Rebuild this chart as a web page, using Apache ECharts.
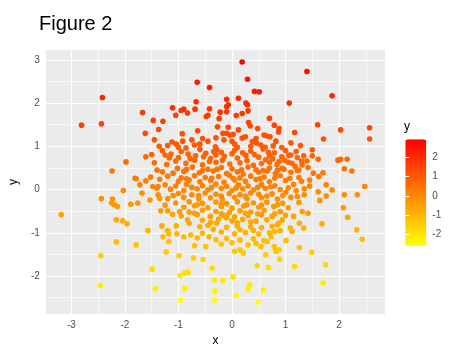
<!DOCTYPE html>
<html><head><meta charset="utf-8">
<script src="https://cdn.jsdelivr.net/npm/echarts@6/dist/echarts.min.js"></script>
<style>html,body{margin:0;padding:0;background:#fff}#c{width:474px;height:355px}</style>
</head><body><div id="c"></div>
<script>
const xTicks = [-3, -2, -1, 0, 1, 2];
const yTicks = [-2, -1, 0, 1, 2, 3];
const xMinor = [-2.5, -1.5, -0.5, 0.5, 1.5, 2.5];
const yMinor = [-2.5, -1.5, -0.5, 0.5, 1.5, 2.5];
const legendTicks = [-2, -1, 0, 1, 2];

const pointsUpper = [
[-0.65,2.48],[-0.42,2.36],[-2.42,2.13],[-0.67,2.03],[-2.81,1.49],[-2.44,1.52],[-1.67,1.78],[-1.11,1.89],[-0.95,1.83],[-0.90,1.86],
[-0.83,1.77],[-0.69,1.86],[-0.42,1.87],[-0.22,1.79],[-1.05,1.72],[-1.47,1.60],[-1.29,1.58],[-0.48,1.69],[-0.45,1.72],[-0.24,1.64],
[-1.62,1.30],[-1.37,1.39],[-0.93,1.29],[-0.64,1.36],[-0.27,1.45],[-0.17,1.30],[-0.92,1.12],[-1.12,1.10],[-1.20,1.02],[-1.04,1.05],
[-1.36,1.00],[-0.86,0.96],[-0.70,1.03],[-0.55,1.18],[-0.31,0.99],[-0.28,0.92],[-0.34,0.88],[-1.61,0.76],[-1.50,0.81],[-1.14,0.82],
[-1.17,0.73],[-0.78,0.72],[-0.49,0.84],[-0.53,0.76],[-1.98,0.64],[-2.24,0.43],[-1.81,0.26],
[0.19,2.95],[1.40,2.73],[0.29,2.55],[0.42,2.27],[0.51,2.26],[1.87,2.17],[1.07,2.00],[-0.10,2.09],[-0.07,1.96],[0.12,2.11],
[0.26,2.00],[0.29,1.96],[-0.10,1.80],[0.19,1.76],[0.30,1.82],[0.08,1.71],[0.70,1.65],[0.31,1.55],[0.34,1.47],[0.79,1.49],
[0.88,1.41],[0.87,1.33],[1.60,1.50],[2.03,1.38],[2.57,1.43],[2.57,1.17],[1.71,1.17],[1.17,1.32],[-0.07,1.44],[0.48,1.41],
[-0.10,1.30],[-0.04,1.26],[0.02,1.28],[0.12,1.38],[0.19,1.19],[0.60,1.26],[0.65,1.24],[0.71,1.22],[0.38,1.11],[0.46,1.07],
[0.54,1.03],[0.77,1.01],[0.93,0.97],[1.28,1.02],[1.50,0.92],[1.61,0.70],[1.98,0.68],[2.03,0.70],[2.15,0.70],[2.10,0.48],
[2.24,0.43],[1.70,0.39],[1.34,0.78],[1.40,0.66],[1.06,0.79],[1.12,0.61],[0.93,0.76],[0.88,0.65],[0.94,0.49],[0.79,0.85],
[0.70,0.78],[0.63,0.69],[1.18,0.53],[1.25,0.45],[1.31,0.57],[-0.10,1.92],
[-0.45,1.12],[-0.15,1.15],[0.05,1.05],[0.25,1.22],[0.35,1.00],[-0.60,1.05],[0.10,0.98]
];

const pointsCore = [
[-1.30,0.90],[-0.95,0.88],[-0.60,0.93],[-0.20,0.86],[0.05,0.91],[0.35,0.89],[0.58,0.94],[1.00,0.90],
[-1.00,0.74],[-0.68,0.78],[-0.40,0.72],[-0.14,0.77],[0.10,0.73],[0.26,0.79],[0.50,0.75],[0.76,0.71],[1.22,0.74],
[-1.45,0.62],[-1.22,0.58],[-0.86,0.61],[-0.55,0.57],[-0.30,0.63],[-0.04,0.59],[0.15,0.62],[0.40,0.56],[0.55,0.60],[0.84,0.58],[1.05,0.63],
[-1.02,0.49],[-0.74,0.52],[-0.45,0.47],[-0.20,0.51],[0.00,0.48],[0.30,0.52],[0.45,0.46],[0.70,0.50],[0.97,0.47],[1.42,0.51],
[-1.30,0.41],[-1.10,0.38],[-0.90,0.42],[-0.61,0.39],[-0.35,0.43],[-0.10,0.37],[0.10,0.41],[0.21,0.36],[0.50,0.40],[0.66,0.43],[0.81,0.37],[1.10,0.40],[1.52,0.38],
[-1.52,0.29],[-1.20,0.31],[-0.95,0.27],[-0.70,0.32],[-0.50,0.28],[-0.25,0.30],[-0.05,0.33],[0.15,0.27],[0.35,0.31],[0.60,0.29],[0.90,0.32],[1.25,0.28],[1.62,0.30],
[-1.00,0.19],[-0.80,0.22],[-0.60,0.18],[-0.40,0.21],[-0.15,0.17],[0.05,0.22],[0.25,0.19],[0.45,0.23],[0.70,0.18],[1.00,0.21],[1.30,0.19],
[-1.25,0.11],[-1.05,0.08],[-0.85,0.12],[-0.55,0.09],[-0.30,0.13],[-0.10,0.07],[0.12,0.11],[0.30,0.08],[0.55,0.12],[0.80,0.09],[1.15,0.12],[1.45,0.08],
[-1.15,0.01],[-0.90,-0.02],[-0.65,0.02],[-0.45,-0.01],[-0.20,0.03],[0.00,-0.02],[0.20,0.02],[0.40,-0.01],[0.62,0.03],[0.90,0.00],[1.20,-0.03],
[-1.00,-0.09],[-0.75,-0.12],[-0.50,-0.08],[-0.30,-0.11],[-0.05,-0.09],[0.15,-0.12],[0.35,-0.08],[0.50,-0.11],[0.75,-0.10],[1.00,-0.07],[1.35,-0.12],
[-1.20,-0.21],[-0.90,-0.18],[-0.62,-0.22],[-0.40,-0.19],[-0.18,-0.23],[0.05,-0.18],[0.28,-0.21],[0.55,-0.19],[0.85,-0.22],[1.10,-0.18],
[-1.05,-0.31],[-0.80,-0.28],[-0.55,-0.32],[-0.30,-0.29],[-0.10,-0.33],[0.10,-0.28],[0.40,-0.31],[0.65,-0.29],[0.95,-0.32],[1.25,-0.30],
[-0.90,-0.41],[-0.70,-0.38],[-0.45,-0.42],[-0.20,-0.39],[0.00,-0.43],[0.22,-0.38],[0.50,-0.41],[0.78,-0.39],[1.05,-0.42],
[-1.20,-0.49],[-0.80,-0.52],[-0.55,-0.48],[-0.30,-0.51],[-0.05,-0.53],[0.15,-0.49],[0.35,-0.52],[0.60,-0.48],[0.90,-0.51],
[-0.95,-0.61],[-0.65,-0.58],[-0.40,-0.62],[-0.15,-0.59],[0.05,-0.63],[0.30,-0.60],[0.55,-0.58],[0.75,-0.62],[1.00,-0.59],
[-0.55,-0.71],[-0.25,-0.68],[0.00,-0.72],[0.20,-0.69],[0.45,-0.73],[0.65,-0.70],
[-0.60,-0.86],[-0.45,-0.83],[-0.10,-0.87],[0.10,-0.84],[0.35,-0.86],[0.55,-0.88],[0.75,-0.85],
[-0.55,-1.01],[-0.20,-0.98],[0.05,-1.02],[0.25,-0.99],[0.50,-1.03],[0.70,-1.00],
[-0.30,-1.16],[-0.10,-1.13],[0.15,-1.17],[0.40,-1.14],[0.60,-1.18]
];

const pointsCoreExtra = [
[-1.45,1.15],[-0.75,1.15],[-0.30,1.20],[0.00,1.12],[0.45,1.18],[0.82,1.12],[1.10,1.08],[-1.00,0.98],[0.62,0.98],[1.20,0.88],
[-1.25,0.80],[-0.82,0.82],[-0.30,0.80],[0.00,0.83],[0.20,0.85],[0.42,0.81],[0.68,0.86],[1.10,0.80],[1.50,0.78],
[-1.05,0.66],[-0.70,0.68],[-0.42,0.65],[-0.18,0.68],[0.28,0.67],[0.70,0.64],[0.98,0.68],[1.30,0.66],
[-1.40,0.45],[-0.85,0.47],[-0.55,0.44],[-0.28,0.47],[0.18,0.46],[0.58,0.44],[0.85,0.45],[1.22,0.44],
[-1.35,0.24],[-0.85,0.25],[-0.38,0.26],[0.02,0.26],[0.52,0.25],[0.80,0.26],[1.08,0.26],[1.45,0.22],
[-1.40,0.03],[-0.75,0.05],[-0.38,0.05],[0.08,0.04],[0.48,0.05],[0.72,0.06],[1.05,0.04],[1.35,0.02],
[-1.10,-0.14],[-0.62,-0.14],[-0.20,-0.15],[0.25,-0.15],[0.65,-0.15],[0.95,-0.14],[1.22,-0.16],
[-1.25,-0.36],[-0.65,-0.35],[-0.20,-0.34],[0.28,-0.35],[0.55,-0.36],[0.85,-0.35],
[-0.70,-0.55],[-0.20,-0.56],[0.25,-0.55],[0.48,-0.56],[0.80,-0.56],[1.15,-0.62],
[-0.80,-0.78],[-0.40,-0.76],[0.10,-0.77],[0.35,-0.75],[0.85,-0.82],[-0.10,-0.65],
[-0.35,-0.92],[0.15,-0.93],[0.40,-0.95],[0.90,-0.95],
[-0.20,-1.26],[0.00,-1.23],[0.45,-1.25],[-0.70,-1.30]
];

const pointsLower = [
[-3.19,-0.58],[-2.44,-0.21],[-2.23,-0.22],[-2.25,-0.31],[-2.20,-0.35],[-2.14,-0.39],[-2.03,-0.02],[-1.89,-0.34],[-1.76,-0.31],[-1.79,0.25],
[-1.72,0.11],[-1.68,-0.08],[-1.61,0.20],[-1.48,0.07],[-1.38,0.07],[-1.38,-0.12],[-1.35,-0.20],[-1.53,-0.24],[-2.16,-0.70],[-2.04,-0.72],
[-1.96,-0.79],[-2.16,-1.21],[-1.79,-1.28],[-2.45,-1.53],[-2.46,-2.22],[-1.57,-0.95],[-1.49,-1.84],[-1.43,-2.29],[-1.33,-0.49],[-1.31,-0.84],
[-1.20,-0.95],[-1.18,-1.02],[-1.18,-1.20],[-1.29,-1.09],[-1.23,-1.44],[-1.11,-0.57],[-1.04,-0.84],[-1.03,-1.02],[-0.98,-0.51],[-0.99,-1.53],
[-0.90,-1.09],[-0.83,-0.70],[-0.77,-1.05],[-0.72,-1.58],[-0.65,-1.12],[-0.54,-1.62],[-0.49,-1.32],[-0.43,-1.09],[-0.37,-1.82],[-0.29,-0.78],
[-0.33,-2.09],[-0.97,-1.99],[-0.89,-1.93],[-0.82,-1.91],[-0.88,-2.29],[-0.96,-2.56],[-0.32,-2.34],[-0.33,-2.55],
[2.48,0.07],[2.10,-0.12],[2.34,-0.12],[2.08,-0.42],[2.16,-0.64],[2.33,-0.93],[2.43,-1.15],[1.68,-0.79],[1.75,-1.74],[1.70,-2.16],
[1.49,-1.45],[1.61,-0.05],[1.76,0.11],[1.76,-0.15],[1.87,-0.01],[1.64,-0.25],[1.26,-1.34],[1.17,-1.78],[1.26,-0.78],[1.34,-0.89],
[1.31,-0.51],[1.42,-0.55],[1.09,-0.89],[1.12,-0.97],[1.01,-1.18],[0.89,-1.61],[0.88,-1.39],[0.82,-1.43],[0.79,-1.32],[0.68,-1.80],
[0.59,-2.32],[0.48,-2.60],[0.47,-1.76],[0.63,-1.51],[0.33,-2.20],[0.30,-2.30],[0.02,-2.02],[0.08,-2.45],[-0.17,-2.10],[0.21,-1.47],
[0.15,-1.39],[0.05,-1.43],[0.30,-1.28],[0.54,-1.32],[0.66,-1.20],[0.73,-1.09],[0.79,-0.97],[0.87,-0.78],[0.94,-0.70]
];

const points = pointsUpper.concat(pointsCore, pointsCoreExtra, pointsLower);
const xs = points.map(p => p[0]);
const ys = points.map(p => p[1]);
const xMinD = Math.min(...xs), xMaxD = Math.max(...xs);
const yMinD = Math.min(...ys), yMaxD = Math.max(...ys);
const xPad = 0.05 * (xMaxD - xMinD), yPad = 0.05 * (yMaxD - yMinD);

const font = '"Liberation Sans", Arial, Helvetica, sans-serif';
const gridLines = [].concat(
  xMinor.map(v => ({xAxis: v, lineStyle: {width: 0.6}})),
  yMinor.map(v => ({yAxis: v, lineStyle: {width: 0.6}})),
  xTicks.map(v => ({xAxis: v, lineStyle: {width: 1.2}})),
  yTicks.map(v => ({yAxis: v, lineStyle: {width: 1.2}}))
);

const chart = echarts.init(document.getElementById('c'), null, {renderer: 'canvas'});
chart.setOption({
  animation: false,
  backgroundColor: '#FFFFFF',
  textStyle: {fontFamily: font},
  title: [
    {text: 'Figure 2', left: 39, top: 14, padding: 0,
     textStyle: {fontFamily: font, fontSize: 20, fontWeight: 'normal', color: '#000000'}},
    {text: 'y', left: 404, top: 121, padding: 0,
     textStyle: {fontFamily: font, fontSize: 12, fontWeight: 'normal', color: '#000000'}}
  ],
  grid: [
    {left: 39.3, right: 89, top: 50, bottom: 41, show: true, backgroundColor: '#EBEBEB', borderWidth: 0},
    {left: 405.3, top: 139.3, width: 21, height: 106.4, show: false}
  ],
  xAxis: [
    {type: 'value', gridIndex: 0, min: xMinD - xPad, max: xMaxD + xPad,
     axisLine: {show: false},
     axisTick: {show: true, length: 3, customValues: xTicks, lineStyle: {color: '#333333', width: 1}},
     axisLabel: {customValues: xTicks, margin: 6, color: '#4D4D4D', fontSize: 10, fontFamily: font},
     splitLine: {show: false},
     name: 'x', nameLocation: 'middle', nameGap: 21,
     nameTextStyle: {color: '#000000', fontSize: 12, fontFamily: font}},
    {type: 'value', gridIndex: 1, show: false, min: 0, max: 1}
  ],
  yAxis: [
    {type: 'value', gridIndex: 0, min: yMinD - yPad, max: yMaxD + yPad,
     axisLine: {show: false},
     axisTick: {show: true, length: 3, customValues: yTicks, lineStyle: {color: '#333333', width: 1}},
     axisLabel: {customValues: yTicks, margin: 6, color: '#4D4D4D', fontSize: 10, fontFamily: font},
     splitLine: {show: false},
     name: 'y', nameLocation: 'middle', nameGap: 23, nameRotate: 90,
     nameTextStyle: {color: '#000000', fontSize: 12, fontFamily: font}},
    {type: 'value', gridIndex: 1, position: 'right', min: yMinD, max: yMaxD, z: 6,
     axisLine: {show: false},
     axisTick: {show: true, inside: true, length: 4, customValues: legendTicks, lineStyle: {color: '#FFFFFF', width: 1}},
     axisLabel: {customValues: legendTicks, margin: 6, color: '#4D4D4D', fontSize: 10, fontFamily: font},
     splitLine: {show: false}},
    {type: 'value', gridIndex: 1, position: 'left', min: yMinD, max: yMaxD, z: 6,
     axisLine: {show: false},
     axisTick: {show: true, inside: true, length: 4, customValues: legendTicks, lineStyle: {color: '#FFFFFF', width: 1}},
     axisLabel: {show: false},
     splitLine: {show: false}}
  ],
  visualMap: {
    type: 'continuous', min: yMinD, max: yMaxD, dimension: 1, seriesIndex: 1,
    left: 405.3, top: 139.3, itemWidth: 21, itemHeight: 106.4, padding: 0,
    calculable: false, realtime: false, text: null, showLabel: false, hoverLink: false,
    inRange: {color: ['#FFFF00', '#FF0000']}
  },
  series: [
    {type: 'scatter', xAxisIndex: 0, yAxisIndex: 0, data: [], silent: true, z: 1,
     markLine: {silent: true, z: 1, symbol: ['none', 'none'], label: {show: false}, animation: false,
       lineStyle: {color: '#FFFFFF', type: 'solid'}, emphasis: {disabled: true}, data: gridLines}},
    {type: 'scatter', xAxisIndex: 0, yAxisIndex: 0, data: points, symbolSize: 5.6, z: 10,
     itemStyle: {opacity: 1}, emphasis: {disabled: true}}
  ]
});
</script>
</body></html>
